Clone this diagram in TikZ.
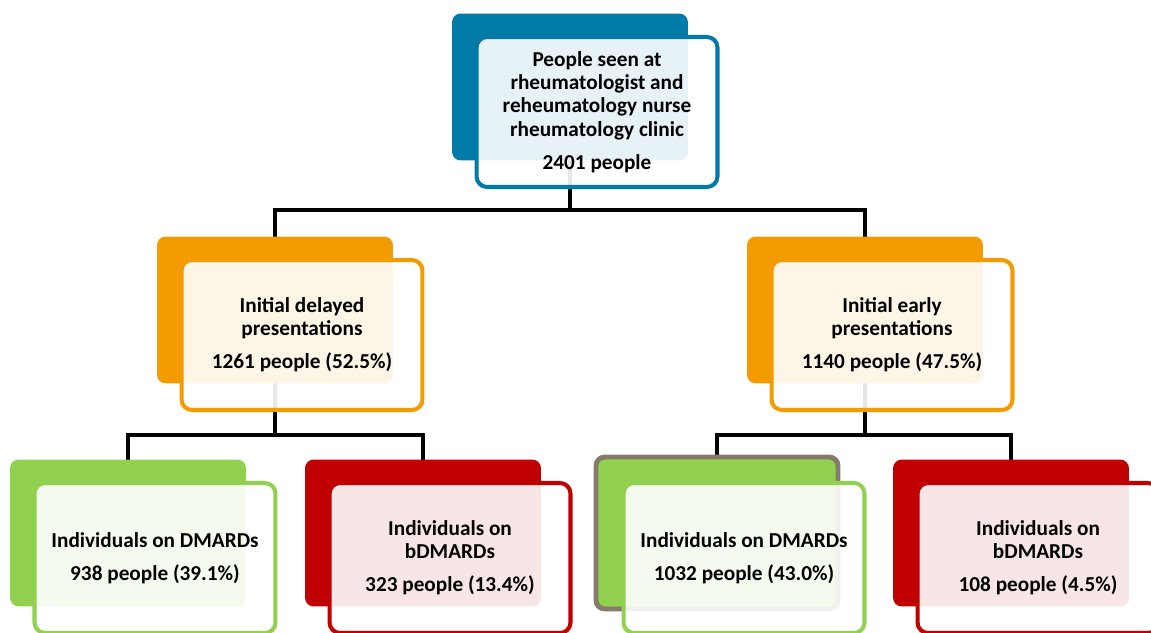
\documentclass[tikz,border=0pt]{standalone}
\usepackage{fontspec}
\setmainfont{Carlito}
\usetikzlibrary{positioning}
\pgfdeclarelayer{bg}
\pgfsetlayers{bg,main}

\definecolor{blueC}{RGB}{0,123,167}
\definecolor{orangeC}{RGB}{243,155,0}
\definecolor{greenC}{RGB}{146,208,80}
\definecolor{redC}{RGB}{192,0,0}
\definecolor{frameC}{RGB}{134,122,106}

\begin{document}
\begin{tikzpicture}[x = 0.02cm, y = -0.02cm,
        back/.style = {rectangle, rounded corners = 5pt, inner sep = 0pt, minimum width = 4.72cm, minimum height = 2.94cm, fill = #1},
        front/.style = {rectangle, rounded corners = 6pt, draw = #1, line width = 2.3pt, fill = white, fill opacity = .9, text opacity = 1,
                        minimum width = 4.82cm, minimum height = 3.0cm, align = center, inner sep = 2pt,
                        font = \bfseries\fontsize{12.1}{13.2}\selectfont, xshift = .54cm, yshift = -.5cm},
        conn/.style = {line width = 2.3pt}]
        \useasboundingbox (0,0) rectangle (1151,632);

        % top
        \node [back=blueC] (rootB) at (570, 87) {};
        \node [front=blueC] (root) at (rootB) {People seen at\\rheumatologist and\\reheumatology nurse\\rheumatology clinic\\[5.5pt]2401 people};

        % second row
        \node [back=orangeC] (delB) at (275, 310) {};
        \node [front=orangeC] (del) at (delB) {Initial delayed\\presentations\\[5.5pt]1261 people (52.5\%)};
        \node [back=orangeC] (earlyB) at (865, 310) {};
        \node [front=orangeC] (early) at (earlyB) {Initial early\\presentations\\[5.5pt]1140 people (47.5\%)};

        % third row
        \node [back=greenC] (dmB1) at (128, 533) {};
        \node [front=greenC] (dm1) at (dmB1) {Individuals on DMARDs\\[5.5pt]938 people (39.1\%)};
        \node [back=redC] (bdmB1) at (423, 533) {};
        \node [front=redC] (bdm1) at (bdmB1) {Individuals on\\bDMARDs\\[5.5pt]323 people (13.4\%)};
        \node [back=greenC, draw=frameC, line width=2.8pt, minimum width=4.84cm, minimum height=3.04cm] (dmB2) at (717, 533) {};
        \node [front=greenC] (dm2) at (dmB2) {Individuals on DMARDs\\[5.5pt]1032 people (43.0\%)};
        \node [back=redC] (bdmB2) at (1011, 533) {};
        \node [front=redC] (bdm2) at (bdmB2) {Individuals on\\bDMARDs\\[5.5pt]108 people (4.5\%)};

        \coordinate (j1) at (570, 210);
        \coordinate (j2) at (275, 435);
        \coordinate (j3) at (865, 435);

        \begin{pgfonlayer}{bg}
                \draw [conn] (rootB.center) -- (j1);
                \draw [conn] (delB.center) -- (j2);
                \draw [conn] (earlyB.center) -- (j3);
                \foreach \n in {delB, earlyB}
                         {
                           \draw [conn] (j1) -| (\n.center);
                         }
                \foreach \n in {dmB1, bdmB1}
                         {
                           \draw [conn] (j2) -| (\n.center);
                         }
                \foreach \n in {dmB2, bdmB2}
                         {
                           \draw [conn] (j3) -| (\n.center);
                         }
        \end{pgfonlayer}
\end{tikzpicture}
\end{document}
